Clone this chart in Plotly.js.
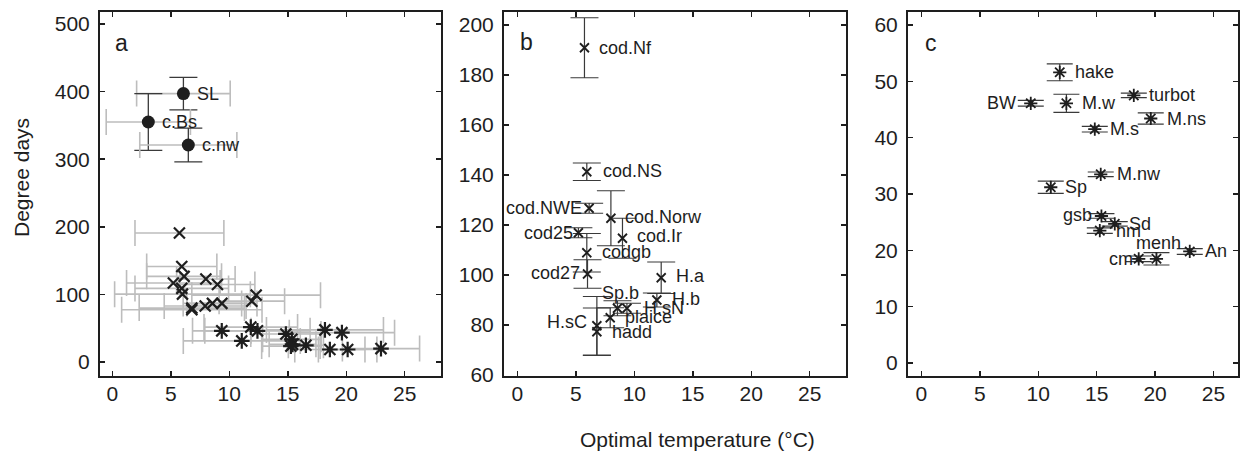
<!DOCTYPE html>
<html><head><meta charset="utf-8">
<script src="https://cdn.plot.ly/plotly-3.0.1.min.js"></script>
<style>html,body{margin:0;padding:0;background:#fff}#chart{width:1250px;height:455px}</style>
</head><body><div id="chart"></div>
<script>
// ---------- DATA ----------
// Panel a: cod populations with filled circles (Degree days vs optimal temperature)
const circNames = ['SL', 'c.Bs', 'c.nw'];
const circTemp = [6.08, 3.08, 6.5];
const circDD = [397, 355, 321];
const circDDerr = [24, 42, 25];
const circTempErr = [4.0, 3.6, 4.15];

// Panel b: gadoids / flatfish (x markers)
const bNames = ['cod.Nf', 'cod.NS', 'cod.NWE', 'cod.Norw', 'cod.Ir', 'cod25', 'codgb', 'cod27', 'H.a', 'H.b', 'H.sN', 'Sp.b', 'plaice', 'H.sC', 'hadd'];
const bTemp = [5.74, 5.94, 6.14, 8.0, 8.99, 5.22, 5.94, 6.0, 12.3, 11.93, 9.37, 8.56, 7.94, 6.8, 6.8];
const bDD = [190.9, 141.3, 126.7, 122.7, 114.7, 116.9, 108.9, 100.4, 98.9, 90.0, 86.7, 86.7, 82.9, 79.7, 77.3];
const bDDerr = [12, 3.5, 2, 11, 8, 2, 7.7, 5.7, 6.3, 2.8, 2, 3, 4, 11.7, 9.5];
const bTempErr = [3.8, 3.0, 3.2, 2.5, 3.2, 4.0, 4.0, 5.8, 5.5, 2.8, 3.0, 2.5, 3.5, 4.5, 6.0];

// Panel c: other species (asterisks)
const cNames = ['hake', 'BW', 'M.w', 'turbot', 'M.ns', 'M.s', 'M.nw', 'Sp', 'gsb', 'Sd', 'hm', 'cm', 'menh', 'An'];
const cTemp = [11.84, 9.36, 12.41, 18.18, 19.63, 14.84, 15.35, 11.07, 15.41, 16.55, 15.27, 18.6, 20.12, 22.97];
const cDD = [51.6, 46.1, 46.1, 47.5, 43.4, 41.5, 33.5, 31.2, 26.1, 24.7, 23.5, 18.5, 18.5, 19.8];
const cDDerr = [1.5, 0.5, 1.6, 0.4, 1.0, 0.5, 0.4, 1.1, 0.4, 0.4, 0.5, 0.5, 1.1, 0.5];
const cTempErr = [4.0, 2.5, 4.5, 5.0, 4.5, 3.0, 2.5, 5.0, 2.0, 1.5, 2.5, 3.0, 2.5, 3.3];

const xTicks = [0, 5, 10, 15, 20, 25];
const yTicksA = [0, 100, 200, 300, 400, 500];
const yTicksB = [60, 80, 100, 120, 140, 160, 180, 200];
const yTicksC = [0, 10, 20, 30, 40, 50, 60];

// ---------- STYLE ----------
const FONT = 'Liberation Sans, Arial, Helvetica, sans-serif';
const INK = '#1e1e1e';
const GREY = '#bdbdbd';
const CAP = '#3a3a3a';

// label placement: [xanchor, xshift, yshift]
const labelPos = {
  'SL': ['left', 12, 0], 'c.Bs': ['left', 12, 0], 'c.nw': ['left', 12, 0],
  'cod.Nf': ['left', 13, 0], 'cod.NS': ['left', 14, 1], 'cod.NWE': ['right', -5, 0],
  'cod.Norw': ['left', 12, 1], 'cod.Ir': ['left', 13, 2], 'cod25': ['right', -3, 0],
  'codgb': ['left', 13, 1], 'cod27': ['right', -6, 1], 'H.a': ['left', 13, 2],
  'H.b': ['left', 13, 1], 'H.sN': ['left', 15, 0], 'Sp.b': ['center', 3, 15],
  'plaice': ['left', 13, 1], 'H.sC': ['right', -8, 4], 'hadd': ['left', 13, 0],
  'hake': ['left', 13, 0], 'BW': ['right', -13, 0], 'M.w': ['left', 14, 0],
  'turbot': ['left', 13, 0], 'M.ns': ['left', 14, 0], 'M.s': ['left', 13, 0],
  'M.nw': ['left', 14, 0], 'Sp': ['left', 12, 0], 'gsb': ['right', -7, 1],
  'Sd': ['left', 12, 0], 'hm': ['left', 14, 0], 'cm': ['right', -4, 0],
  'menh': ['center', 2, 16], 'An': ['left', 13, 0]
};

const traces = [
  // panel a: x markers (panel b species) with grey horizontal error bars
  {x: bTemp, y: bDD, xaxis: 'x', yaxis: 'y', type: 'scatter', mode: 'markers',
   marker: {symbol: 'x-thin-open', size: 11, color: INK, line: {width: 2.2, color: INK}},
   error_x: {type: 'data', array: bTempErr, visible: true, color: GREY, thickness: 1.6, width: 13},
   hoverinfo: 'skip'},
  // panel a: asterisks (panel c species)
  {x: cTemp, y: cDD, xaxis: 'x', yaxis: 'y', type: 'scatter', mode: 'markers',
   marker: {symbol: 'asterisk-open', size: 13, color: INK, line: {width: 2.2, color: INK}},
   error_x: {type: 'data', array: cTempErr, visible: true, color: GREY, thickness: 1.6, width: 13},
   hoverinfo: 'skip'},
  // panel a: filled circles
  {x: circTemp, y: circDD, xaxis: 'x', yaxis: 'y', type: 'scatter', mode: 'markers',
   marker: {symbol: 'circle', size: 13, color: INK},
   error_x: {type: 'data', array: circTempErr, visible: true, color: GREY, thickness: 1.6, width: 13},
   error_y: {type: 'data', array: circDDerr, visible: true, color: CAP, thickness: 1.3, width: 14},
   hoverinfo: 'skip'},
  // panel b
  {x: bTemp, y: bDD, xaxis: 'x2', yaxis: 'y2', type: 'scatter', mode: 'markers',
   marker: {symbol: 'x-thin-open', size: 9, color: INK, line: {width: 1.8, color: INK}},
   error_y: {type: 'data', array: bDDerr, visible: true, color: CAP, thickness: 1.2, width: 14},
   hoverinfo: 'skip'},
  // panel c
  {x: cTemp, y: cDD, xaxis: 'x3', yaxis: 'y3', type: 'scatter', mode: 'markers',
   marker: {symbol: 'asterisk-open', size: 11, color: INK, line: {width: 1.8, color: INK}},
   error_y: {type: 'data', array: cDDerr, visible: true, color: CAP, thickness: 1.2, width: 13},
   hoverinfo: 'skip'}
];

const annotations = [];
function addLabels(names, xs, ys, xref, yref) {
  names.forEach((n, i) => {
    const p = labelPos[n] || ['left', 12, 0];
    annotations.push({text: n, x: xs[i], y: ys[i], xref: xref, yref: yref,
      showarrow: false, xanchor: p[0], yanchor: 'middle', xshift: p[1], yshift: p[2],
      font: {family: FONT, size: 18, color: INK}});
  });
}
addLabels(circNames, circTemp, circDD, 'x', 'y');
addLabels(bNames, bTemp, bDD, 'x2', 'y2');
addLabels(cNames, cTemp, cDD, 'x3', 'y3');

// panel letters and shared axis titles
[['a', 121.7, 43], ['b', 526.7, 42], ['c', 930.7, 43]].forEach(l => {
  annotations.push({text: l[0], x: l[1] / 1250, y: 1 - l[2] / 455, xref: 'paper', yref: 'paper',
    showarrow: false, xanchor: 'center', yanchor: 'middle', font: {family: FONT, size: 23, color: INK}});
});
annotations.push({text: 'Optimal temperature (°C)', x: 697 / 1250, y: 1 - 439 / 455, xref: 'paper', yref: 'paper',
  showarrow: false, xanchor: 'center', yanchor: 'middle', font: {family: FONT, size: 21, color: INK}});
annotations.push({text: 'Degree days', x: 22 / 1250, y: 1 - 178 / 455, xref: 'paper', yref: 'paper',
  showarrow: false, xanchor: 'center', yanchor: 'middle', textangle: -90, font: {family: FONT, size: 21, color: INK}});

const yDom = [1 - 376 / 455, 1 - 12 / 455];
function xax(d0, d1, range) {
  return {domain: [d0 / 1250, d1 / 1250], range: range, tickvals: xTicks, ticktext: xTicks.map(String),
    showline: true, linewidth: 2, linecolor: INK, mirror: 'ticks', ticks: 'inside', ticklen: 5,
    tickwidth: 1.5, tickcolor: INK, showgrid: false, zeroline: false,
    tickfont: {family: FONT, size: 21, color: INK}, ticklabelstandoff: -2};
}
function yax(range, tv, anchor) {
  return {domain: yDom, range: range, tickvals: tv, ticktext: tv.map(String), anchor: anchor,
    showline: true, linewidth: 2, linecolor: INK, mirror: 'ticks', ticks: 'inside', ticklen: 5,
    tickwidth: 1.5, tickcolor: INK, showgrid: false, zeroline: false,
    tickfont: {family: FONT, size: 21, color: INK}, ticklabelstandoff: 4};
}

const layout = {
  width: 1250, height: 455, margin: {l: 0, r: 0, t: 0, b: 0, pad: 0},
  paper_bgcolor: '#fff', plot_bgcolor: '#fff', showlegend: false,
  font: {family: FONT, color: INK},
  xaxis: Object.assign(xax(100, 441, [-1.05, 28.1]), {anchor: 'y'}),
  yaxis: yax([-20.7, 517.7], yTicksA, 'x'),
  xaxis2: Object.assign(xax(504, 846, [-1.14, 28.1]), {anchor: 'y2'}),
  yaxis2: yax([59.6, 205.2], yTicksB, 'x2'),
  xaxis3: Object.assign(xax(908, 1238, [-1.15, 27.1]), {anchor: 'y3'}),
  yaxis3: yax([-2.3, 62.3], yTicksC, 'x3'),
  annotations: annotations
};

Plotly.newPlot('chart', traces, layout, {staticPlot: true, displayModeBar: false});
</script>
</body></html>
